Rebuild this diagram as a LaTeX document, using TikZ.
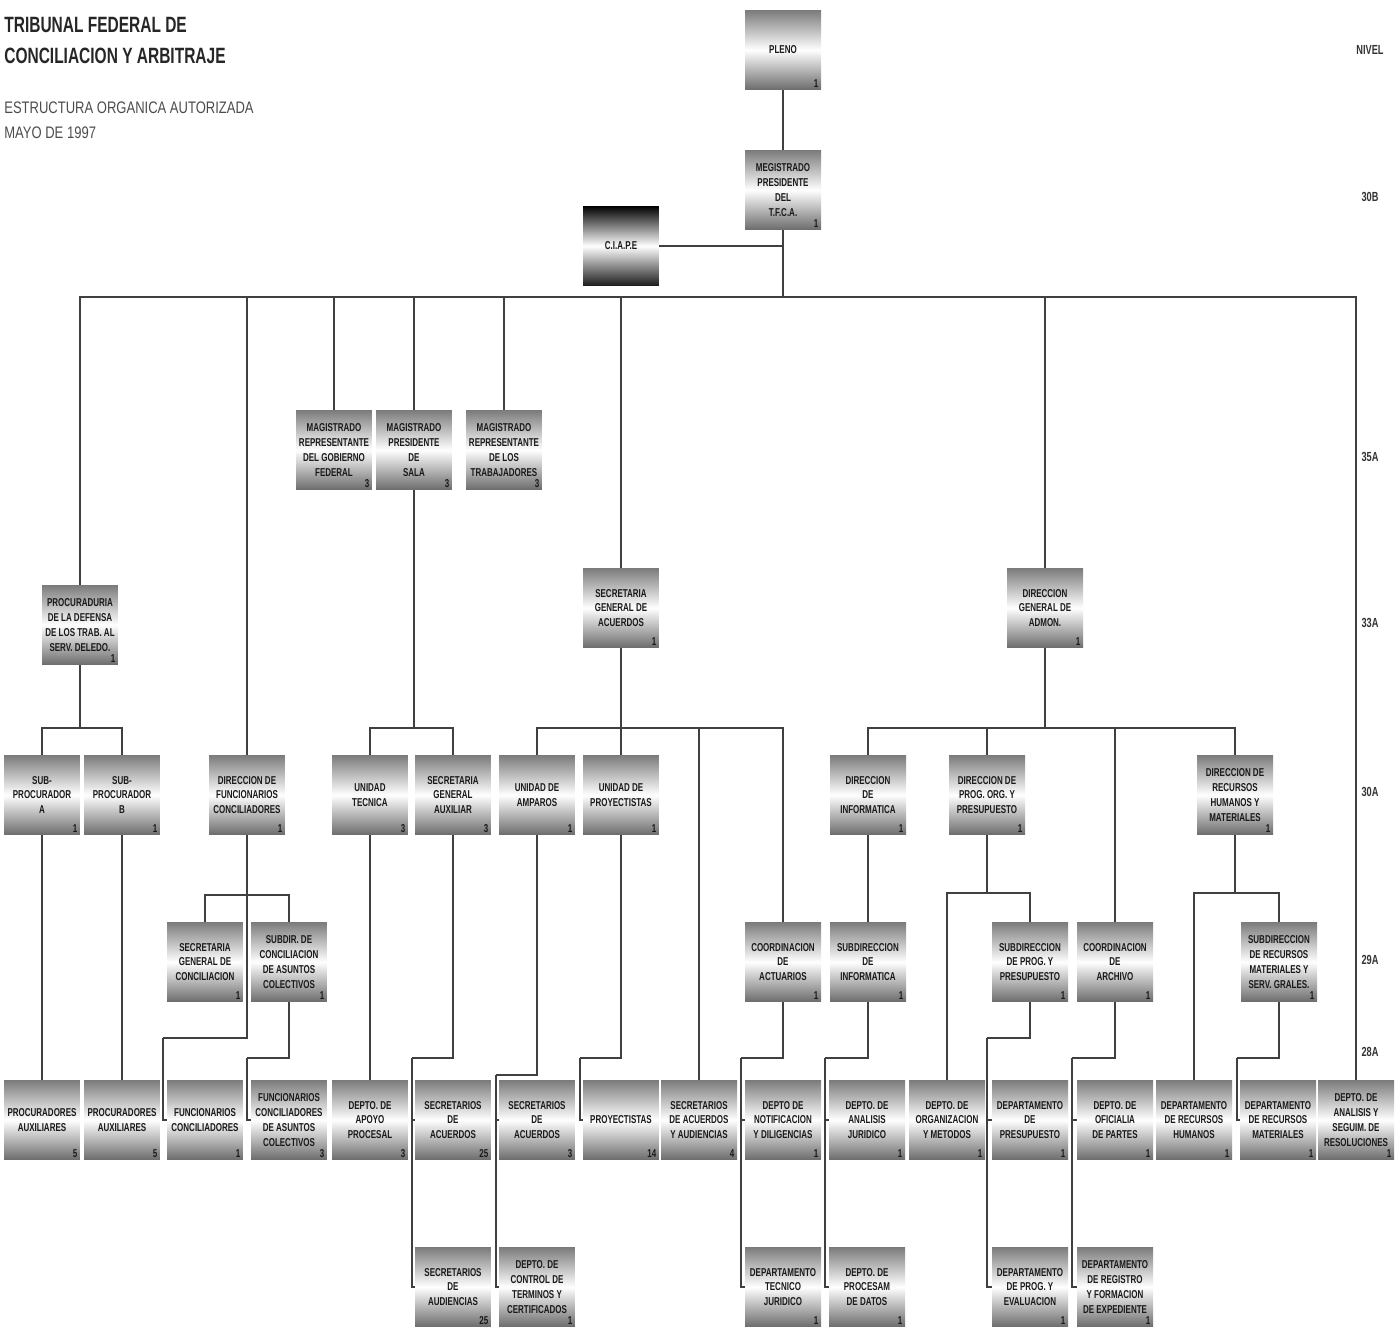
\documentclass[tikz,border=0pt]{standalone}
\usepackage{fontspec}
\usepackage{tikz}
\newfontfamily\boxfont[FakeStretch=0.7]{Liberation Sans}
\newfontfamily\headfont[FakeStretch=0.78]{Liberation Sans}
\tikzstyle{unit}=[rectangle,minimum width=1.52cm,minimum height=1.6cm,inner sep=1pt,align=center,
    top color=black!52,bottom color=black!58,middle color=white,text=black!90,
    font=\boxfont\bfseries\fontsize{6.5}{8.4}\selectfont]
\tikzstyle{dark unit} = [unit, top color=black, bottom color=black!90, middle color=white]
\tikzstyle{plazas} = [anchor=south east,inner sep=1.5pt,text=black!90,font=\boxfont\bfseries\fontsize{6.5}{6.5}\selectfont]
\tikzstyle{nivel} = [text=black!80,font=\boxfont\bfseries\fontsize{7.5}{8}\selectfont]
\tikzstyle{edge} = [draw,line width=0.8pt,black!75]

\begin{document}
\begin{tikzpicture}[x=0.02cm,y=-0.02cm]
    \useasboundingbox (0,0) rectangle (1400,1327);
    % Title and levels
    \node[anchor=west,inner sep=0pt,text=black!85,font=\boxfont\bfseries\fontsize{12.6}{14}\selectfont] (title) at (4,25) {TRIBUNAL FEDERAL DE};
    \node[anchor=west,inner sep=0pt,text=black!85,font=\boxfont\bfseries\fontsize{12.6}{14}\selectfont] (title2) at (4,56) {CONCILIACION Y ARBITRAJE};
    \node[anchor=west,inner sep=0pt,text=black!70,font=\headfont\fontsize{9.5}{11}\selectfont] (sub) at (4,108) {ESTRUCTURA ORGANICA AUTORIZADA};
    \node[anchor=west,inner sep=0pt,text=black!70,font=\headfont\fontsize{9.5}{11}\selectfont] (sub2) at (4,133) {MAYO DE 1997};
    \foreach \pos/\name in {{(1370,50)/NIVEL},{(1370,197)/30B},{(1370,457)/35A},{(1370,623)/33A},{(1370,792)/30A},{(1370,960)/29A},{(1370,1052)/28A}}
        \node[nivel] (n\name) at \pos {\name};

    % First we draw the units, row by row
    \foreach \pos/\name/\txt/\cnt in {{(783,50)/pleno/{PLENO}/1},
        {(783,190)/megis/{MEGISTRADO\\PRESIDENTE\\DEL\\T.F.C.A.}/1},
        % 35A
        {(334,450)/magGob/{MAGISTRADO\\REPRESENTANTE\\DEL GOBIERNO\\FEDERAL}/3},
        {(414,450)/magSala/{MAGISTRADO\\PRESIDENTE\\DE\\SALA}/3},
        {(504,450)/magTrab/{MAGISTRADO\\REPRESENTANTE\\DE LOS\\TRABAJADORES}/3},
        % 33A
        {(80,625)/procu/{PROCURADURIA\\DE LA DEFENSA\\DE LOS TRAB. AL\\SERV. DELEDO.}/1},
        {(621,608)/secAc/{SECRETARIA\\GENERAL DE\\ACUERDOS}/1},
        {(1045,608)/dirAdm/{DIRECCION\\GENERAL DE\\ADMON.}/1},
        % 30A
        {(42,795)/subA/{SUB-\\PROCURADOR\\A}/1},
        {(122,795)/subB/{SUB-\\PROCURADOR\\B}/1},
        {(247,795)/dirFun/{DIRECCION DE\\FUNCIONARIOS\\CONCILIADORES}/1},
        {(370,795)/uTec/{UNIDAD\\TECNICA}/3},
        {(453,795)/secAux/{SECRETARIA\\GENERAL\\AUXILIAR}/3},
        {(537,795)/uAmp/{UNIDAD DE\\AMPAROS}/1},
        {(621,795)/uProy/{UNIDAD DE\\PROYECTISTAS}/1},
        {(868,795)/dirInf/{DIRECCION\\DE\\INFORMATICA}/1},
        {(987,795)/dirProg/{DIRECCION DE\\PROG. ORG. Y\\PRESUPUESTO}/1},
        {(1235,795)/dirRH/{DIRECCION DE\\RECURSOS\\HUMANOS Y\\MATERIALES}/1},
        % 29A
        {(205,962)/secConc/{SECRETARIA\\GENERAL DE\\CONCILIACION}/1},
        {(289,962)/subConc/{SUBDIR. DE\\CONCILIACION\\DE ASUNTOS\\COLECTIVOS}/1},
        {(783,962)/coordAct/{COORDINACION\\DE\\ACTUARIOS}/1},
        {(868,962)/subInf/{SUBDIRECCION\\DE\\INFORMATICA}/1},
        {(1030,962)/subProg/{SUBDIRECCION\\DE PROG. Y\\PRESUPUESTO}/1},
        {(1115,962)/coordArch/{COORDINACION\\DE\\ARCHIVO}/1},
        {(1279,962)/subRM/{SUBDIRECCION\\DE RECURSOS\\MATERIALES Y\\SERV. GRALES.}/1},
        % 28A
        {(42,1120)/procA/{PROCURADORES\\AUXILIARES}/5},
        {(122,1120)/procB/{PROCURADORES\\AUXILIARES}/5},
        {(205,1120)/funcCon/{FUNCIONARIOS\\CONCILIADORES}/1},
        {(289,1120)/funcCol/{FUNCIONARIOS\\CONCILIADORES\\DE ASUNTOS\\COLECTIVOS}/3},
        {(370,1120)/apoyo/{DEPTO. DE\\APOYO\\PROCESAL}/3},
        {(453,1120)/secAcu/{SECRETARIOS\\DE\\ACUERDOS}/25},
        {(537,1120)/secAcuB/{SECRETARIOS\\DE\\ACUERDOS}/3},
        {(621,1120)/proyect/{PROYECTISTAS}/14},
        {(699,1120)/secAcAud/{SECRETARIOS\\DE ACUERDOS\\Y AUDIENCIAS}/4},
        {(783,1120)/notif/{DEPTO DE\\NOTIFICACION\\Y DILIGENCIAS}/1},
        {(867,1120)/anaJur/{DEPTO. DE\\ANALISIS\\JURIDICO}/1},
        {(947,1120)/orgMet/{DEPTO. DE\\ORGANIZACION\\Y METODOS}/1},
        {(1030,1120)/presup/{DEPARTAMENTO\\DE\\PRESUPUESTO}/1},
        {(1115,1120)/ofic/{DEPTO. DE\\OFICIALIA\\DE PARTES}/1},
        {(1194,1120)/deptRH/{DEPARTAMENTO\\DE RECURSOS\\HUMANOS}/1},
        {(1278,1120)/deptRM/{DEPARTAMENTO\\DE RECURSOS\\MATERIALES}/1},
        {(1356,1120)/anaRes/{DEPTO. DE\\ANALISIS Y\\SEGUIM. DE\\RESOLUCIONES}/1},
        % last row
        {(453,1287)/secAud/{SECRETARIOS\\DE\\AUDIENCIAS}/25},
        {(537,1287)/control/{DEPTO. DE\\CONTROL DE\\TERMINOS Y\\CERTIFICADOS}/1},
        {(783,1287)/tecJur/{DEPARTAMENTO\\TECNICO\\JURIDICO}/1},
        {(867,1287)/procDat/{DEPTO. DE\\PROCESAM\\DE DATOS}/1},
        {(1030,1287)/progEval/{DEPARTAMENTO\\DE PROG. Y\\EVALUACION}/1},
        {(1115,1287)/registro/{DEPARTAMENTO\\DE REGISTRO\\Y FORMACION\\DE EXPEDIENTE}/1}}
        \node[unit,label={[plazas]south east:\cnt}] (\name) at \pos {\txt};
    \node[dark unit] (ciape) at (621,246) {C.I.A.P.E};

    % Bus points and joints of the lines
    \foreach \pos/\name in {{(783,297)/bus},{(80,728)/procuBus},{(414,728)/salaBus},{(621,728)/secBus},
        {(1045,728)/admBus},{(247,895)/funBus},{(987,893)/progBus},{(1235,893)/rhBus},
        {(163,1038)/jFun},{(247,1058)/jColec},{(412,1058)/jAux},{(496,1075)/jAmp},{(580,1058)/jProy},
        {(741,1058)/jAct},{(825,1058)/jInf},{(987,1038)/jProg},{(1072,1058)/jArch},{(1237,1058)/jRM}}
        \path \pos coordinate (\name);

    % Connect units with lines
    \path[edge] (pleno) -- (megis);
    \path[edge] (megis) -- (bus);
    \path[edge] (ciape) -- (ciape -| megis);
    \foreach \source/\dest in {bus/procu,bus/dirFun,bus/magGob,bus/magSala,bus/magTrab,bus/secAc,bus/dirAdm,bus/anaRes,
        procuBus/subA,procuBus/subB,salaBus/uTec,salaBus/secAux,
        secBus/uAmp,secBus/uProy,secBus/secAcAud,secBus/coordAct,
        admBus/dirInf,admBus/dirProg,admBus/coordArch,admBus/dirRH,
        funBus/secConc,funBus/subConc,progBus/orgMet,progBus/subProg,rhBus/deptRH,rhBus/subRM}
        \path[edge] (\source) -| (\dest);
    \foreach \source/\dest in {procu/procuBus,magSala/salaBus,secAc/secBus,dirAdm/admBus,
        dirProg/progBus,dirRH/rhBus,subA/procA,subB/procB,uTec/apoyo,dirInf/subInf}
        \path[edge] (\source) -- (\dest);
    \foreach \source/\dest in {dirFun/jFun,subConc/jColec,secAux/jAux,uAmp/jAmp,uProy/jProy,
        coordAct/jAct,subInf/jInf,subProg/jProg,coordArch/jArch,subRM/jRM,
        jFun/funcCon,jColec/funcCol,jAux/secAcu,jAux/secAud,jAmp/secAcuB,jAmp/control,jProy/proyect,
        jAct/notif,jAct/tecJur,jInf/anaJur,jInf/procDat,jProg/presup,jProg/progEval,
        jArch/ofic,jArch/registro,jRM/deptRM}
        \path[edge] (\source) |- (\dest);
\end{tikzpicture}
\end{document}
